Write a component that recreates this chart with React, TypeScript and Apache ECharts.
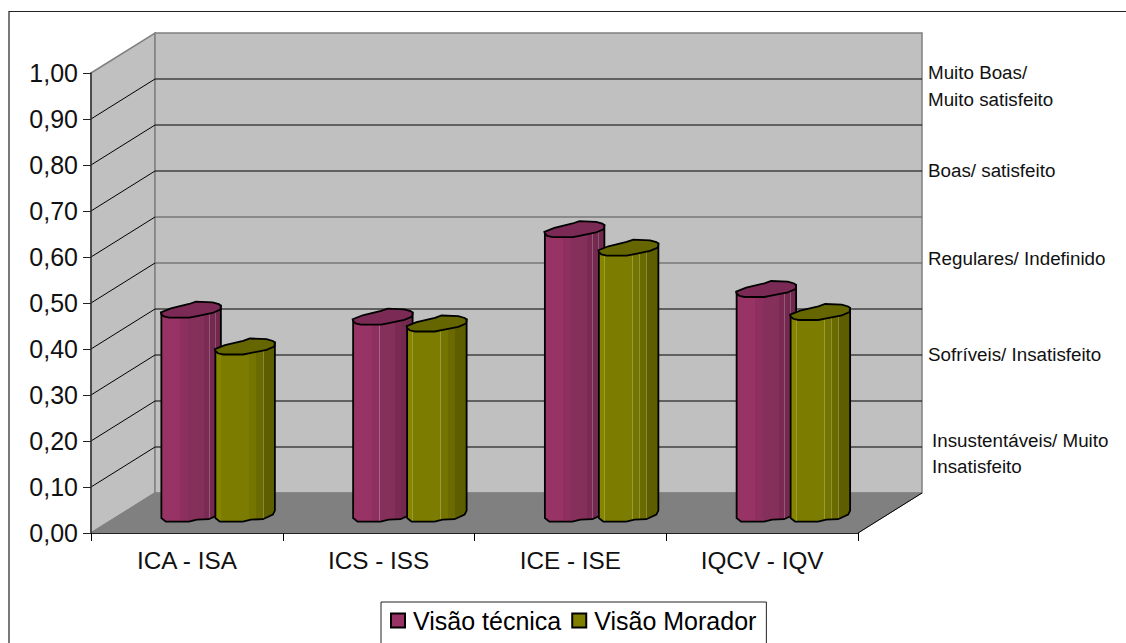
import React, { useEffect, useRef } from "react";
import * as echarts from "echarts";

const categories = ["ICA - ISA", "ICS - ISS", "ICE - ISE", "IQCV - IQV"];
const seriesNames = ["Visão técnica", "Visão Morador"];
const tecnica = [0.442, 0.427, 0.617, 0.487];
const morador = [0.362, 0.412, 0.577, 0.437];
const yTicks = [0, 0.1, 0.2, 0.3, 0.4, 0.5, 0.6, 0.7, 0.8, 0.9, 1];
const tierLabels = [
  "Muito Boas/",
  "Muito satisfeito",
  "Boas/ satisfeito",
  "Regulares/ Indefinido",
  "Sofríveis/ Insatisfeito",
  "Insustentáveis/ Muito",
  "Insatisfeito",
];
const tierLayout = [
  [928, 72],
  [928, 99],
  [928, 170],
  [928, 258],
  [928, 354],
  [932, 440],
  [932, 466],
];

const FONT = "'Liberation Sans', Arial, sans-serif";
const DEPTH_X = 64;
const DEPTH_Y = -40;

const capOutline = [
  [-30, 2.7], [-20, -1.3], [-1.7, -5.7], [5, -8], [21.7, -7.3], [28, -5.5], [30, -4],
  [29.5, 0], [21.7, 3.3], [5, 6.7], [-1.7, 8], [-21.7, 8], [-27, 6.8], [-29.5, 4.5],
];
const baseOutline = [
  [30, -2.4], [28, 1.6], [18, 6.2], [6, 6.6], [-2, 8.6], [-25, 8.6], [-29.5, 5],
];

type Band = [number, number, string];
const pinkBands: Band[] = [
  [0, 0.31, "#973465"], [0.31, 0.44, "#8e305f"], [0.44, 0.447, "#a8648a"],
  [0.447, 0.71, "#85305a"], [0.71, 0.8, "#7b2b53"], [0.8, 0.81, "#96587a"],
  [0.81, 0.9, "#742a4e"], [0.9, 0.91, "#8f5274"], [0.91, 1, "#70294c"],
];
const oliveBands: Band[] = [
  [0, 0.09, "#858500"], [0.09, 0.1, "#9a9a30"], [0.1, 0.56, "#7c7c00"],
  [0.56, 0.57, "#98983c"], [0.57, 0.68, "#747400"], [0.68, 0.69, "#90903c"],
  [0.69, 0.8, "#6a6a00"], [0.8, 0.81, "#88883c"], [0.81, 1, "#5e5e00"],
];

function bandGradient(bands: Band[]) {
  const stops: { offset: number; color: string }[] = [];
  bands.forEach(([a, b, c]) => {
    stops.push({ offset: a, color: c }, { offset: b, color: c });
  });
  return new echarts.graphic.LinearGradient(0, 0, 1, 0, stops);
}

function cylinderSeries(name: string, values: number[], shift: number, bands: Band[], cap: string, color: string) {
  return {
    type: "custom",
    name,
    silent: true,
    itemStyle: { color },
    encode: { x: 0, y: 1 },
    data: values.map((v, i) => [i, v]),
    renderItem: (_p: any, api: any) => {
      const top = api.coord([api.value(0), api.value(1)]);
      const base = api.coord([api.value(0), 0]);
      const cx = top[0] + DEPTH_X / 2 + shift;
      const topY = top[1] + DEPTH_Y / 2;
      const baseY = base[1] + DEPTH_Y / 2;
      const body = [
        [cx - 29.5, topY + 3.7],
        [cx + 30, topY - 4],
        ...baseOutline.map(([x, y]) => [cx + x, baseY + y]),
      ];
      return {
        type: "group",
        children: [
          {
            type: "polygon",
            shape: { points: body },
            style: { fill: bandGradient(bands), stroke: "#000", lineWidth: 1.8 },
          },
          {
            type: "polygon",
            shape: { points: capOutline.map(([x, y]) => [cx + x, topY + y]) },
            style: { fill: cap, stroke: "#000", lineWidth: 1.8 },
          },
        ],
      };
    },
  };
}

const wallSeries = {
  type: "custom",
  silent: true,
  encode: { y: 0 },
  data: yTicks.map((t) => [t]),
  legendHoverLink: false,
  renderItem: (p: any, api: any) => {
    if (p.dataIndex !== 0) return { type: "group", children: [] };
    const [x0, y0] = api.coord([0, 0]);
    const size = api.size([1, 0])[0];
    const x1 = x0 - size / 2 + size * categories.length;
    const left = x0 - size / 2;
    const yTop = api.coord([0, 1])[1];
    const wallStyle = { fill: "#c0c0c0", stroke: "#808080", lineWidth: 1.5 };
    const children: any[] = [
      {
        type: "polygon",
        shape: { points: [[left, yTop], [left + DEPTH_X, yTop + DEPTH_Y], [left + DEPTH_X, y0 + DEPTH_Y], [left, y0]] },
        style: wallStyle,
      },
      {
        type: "polygon",
        shape: { points: [[left + DEPTH_X, yTop + DEPTH_Y], [x1 + DEPTH_X, yTop + DEPTH_Y], [x1 + DEPTH_X, y0 + DEPTH_Y], [left + DEPTH_X, y0 + DEPTH_Y]] },
        style: wallStyle,
      },
      {
        type: "polygon",
        shape: { points: [[left, y0], [left + DEPTH_X, y0 + DEPTH_Y], [x1 + DEPTH_X, y0 + DEPTH_Y], [x1, y0]] },
        style: { fill: "#808080", stroke: "#808080", lineWidth: 1 },
      },
    ];
    yTicks.slice(1, -1).forEach((t) => {
      const y = api.coord([0, t])[1];
      const back = y + DEPTH_Y;
      const strong = t === 0.5 || t === 0.6 ? "#555555" : "#000000";
      children.push(
        { type: "line", shape: { x1: left, y1: y, x2: left + DEPTH_X, y2: back }, style: { stroke: "#000", lineWidth: 1 } },
        { type: "line", shape: { x1: left + DEPTH_X, y1: back, x2: x1 + DEPTH_X, y2: back }, style: { stroke: strong, lineWidth: 1 } }
      );
    });
    children.push({
      type: "polyline",
      shape: { points: [[x1, y0], [x1 + DEPTH_X, y0 + DEPTH_Y]] },
      style: { stroke: "#000", lineWidth: 1 },
    });
    return { type: "group", children };
  },
};

export default function App() {
  const ref = useRef<HTMLDivElement>(null);
  useEffect(() => {
    const chart = echarts.init(ref.current!, undefined, { renderer: "svg" });
    chart.setOption({
      animation: false,
      backgroundColor: "#ffffff",
      textStyle: { fontFamily: FONT },
      grid: { left: 91, top: 73, width: 767, height: 460, containLabel: false },
      xAxis: {
        type: "category",
        data: categories,
        z: 5,
        axisLine: { lineStyle: { color: "#222", width: 1 } },
        axisTick: { show: true, length: 8, lineStyle: { color: "#000" } },
        axisLabel: { fontSize: 24.3, color: "#111", margin: 15, fontFamily: FONT },
      },
      yAxis: {
        type: "value",
        min: 0,
        max: 1,
        interval: 0.1,
        z: 5,
        splitLine: { show: false },
        axisLine: { show: true, lineStyle: { color: "#333", width: 1.5 } },
        axisTick: { show: true, length: 8, lineStyle: { color: "#222" } },
        axisLabel: {
          fontSize: 25,
          color: "#111",
          margin: 13,
          padding: [2, 0, 0, 0],
          fontFamily: FONT,
          formatter: (v: number) => v.toFixed(2).replace(".", ","),
        },
      },
      legend: {
        left: 381,
        top: 602,
        data: seriesNames,
        icon: "rect",
        itemWidth: 14,
        itemHeight: 14,
        itemGap: 10,
        padding: [6, 10, 30, 9],
        backgroundColor: "#fff",
        borderColor: "#222",
        borderWidth: 1,
        selectedMode: false,
        itemStyle: { borderColor: "#000", borderWidth: 2 },
        textStyle: { fontSize: 25, color: "#000", fontFamily: FONT, padding: [0, 0, 0, 3] },
      },
      graphic: [
        {
          type: "polyline",
          silent: true,
          shape: { points: [[9, 643], [9, 11.5], [1126, 11.5]] },
          style: { stroke: "#222", lineWidth: 1.2, fill: "none" },
        },
        ...tierLabels.map((text, i) => ({
          type: "text",
          silent: true,
          x: tierLayout[i][0],
          y: tierLayout[i][1],
          style: { text, font: `18.8px ${FONT}`, fill: "#111", verticalAlign: "middle" },
        })),
      ],
      series: [
        wallSeries,
        cylinderSeries(seriesNames[0], tecnica, -28, pinkBands, "#7a2a55", "#993366"),
        cylinderSeries(seriesNames[1], morador, 26, oliveBands, "#666600", "#808000"),
      ],
    });
    return () => chart.dispose();
  }, []);
  return <div ref={ref} style={{ position: "absolute", left: 0, top: 0, width: 1126, height: 643 }} />;
}
